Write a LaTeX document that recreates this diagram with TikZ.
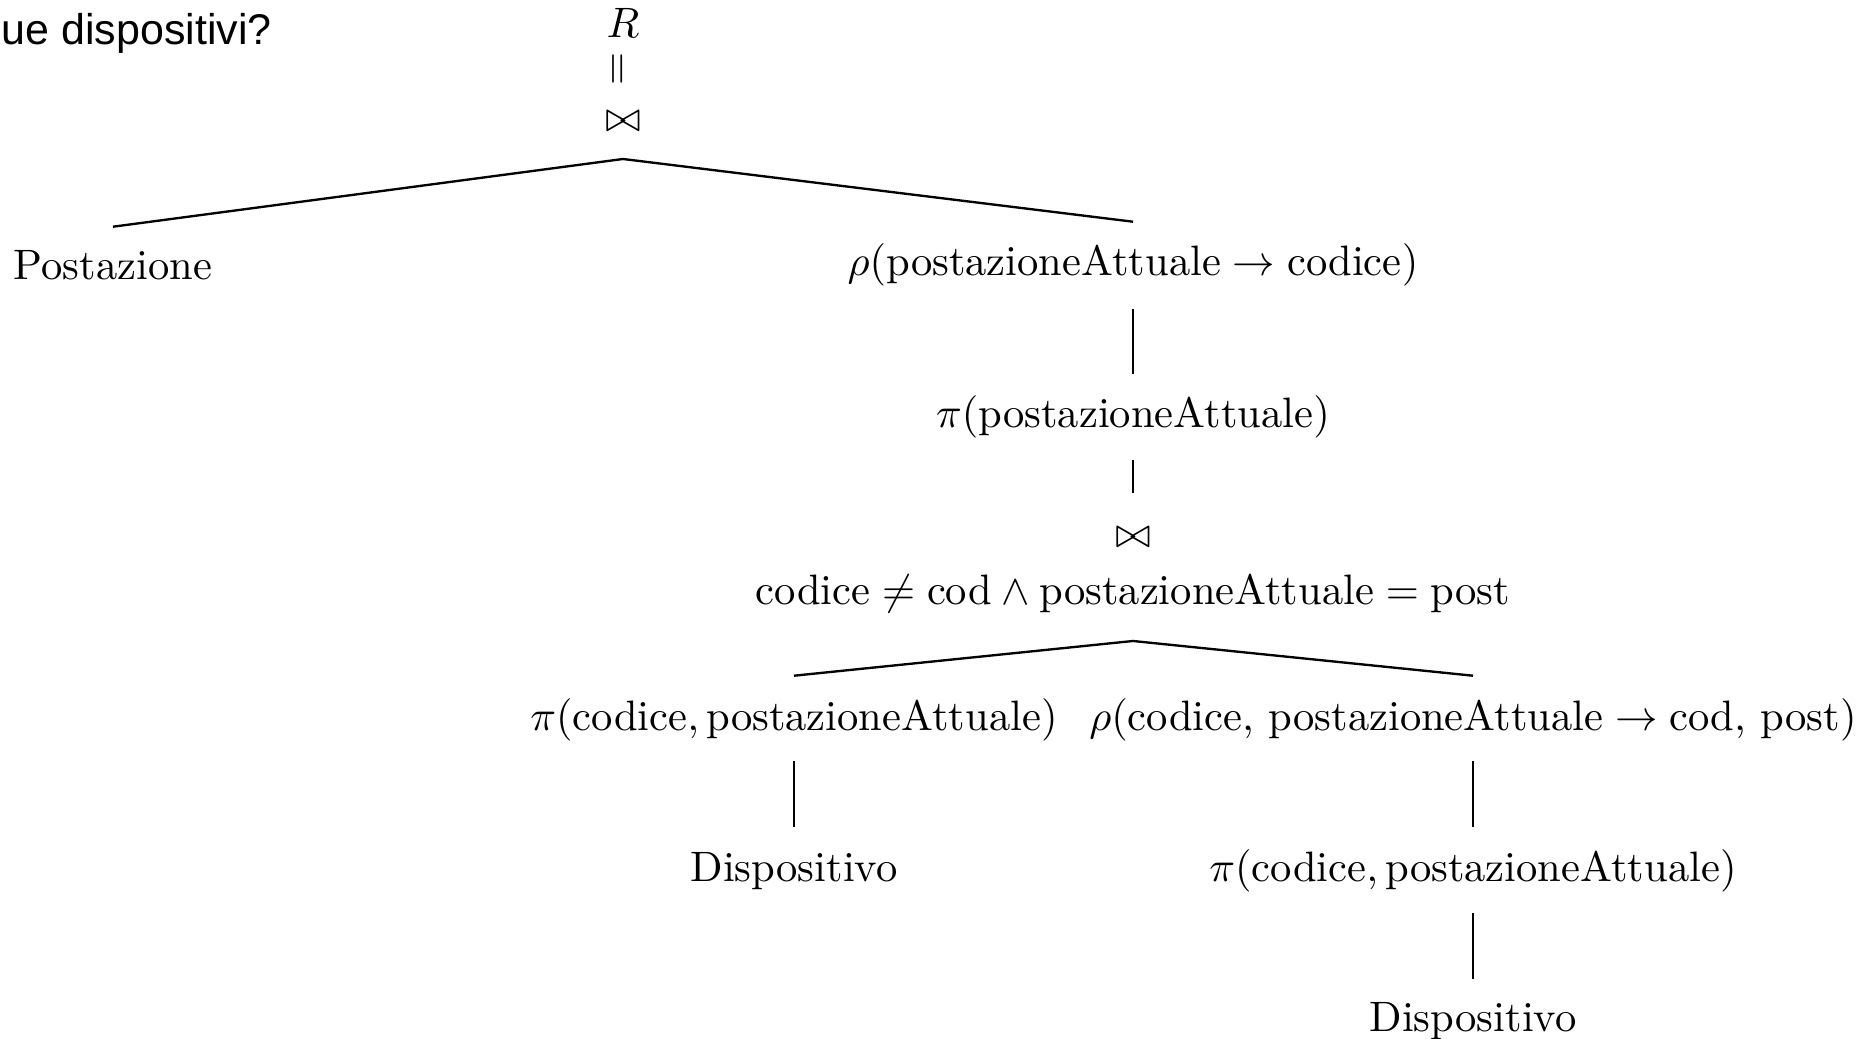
\documentclass[tikz,border=0pt]{standalone}
\usepackage{amsmath}
\usepackage{graphicx}
\usepackage{fontspec}
\usetikzlibrary{calc}
\newfontfamily\qfont{Liberation Sans}
\begin{document}
\begin{tikzpicture}[x=0.235pt,y=-0.235pt,
  lbl/.style={inner sep=0pt,outer sep=0pt,text height=7.5pt,text depth=2.5pt,anchor=center},
  edge/.style={line width=0.55pt},
  vedge/.style={line width=0.4pt}]
\useasboundingbox (0,0) rectangle (1872,1039);
\node[anchor=base west,inner sep=0pt,font=\qfont\fontsize{10.1}{12}\selectfont] (q) at (1,45) {ue dispositivi?};
\node[lbl] (r) at (623,27) {$R$};
\node[inner sep=0pt] (eq) at (620,69) {\rotatebox{90}{$=$}};
\node[lbl] (j1) at (623,121) {$\bowtie$};
\coordinate (a1) at (623,159);
\node[lbl] (post) at (113,269) {Postazione};
\node[lbl] (rho1) at (1133,265) {$\rho(\text{postazioneAttuale} \rightarrow \text{codice})$};
\node[lbl] (pi1) at (1133,417) {$\pi(\text{postazioneAttuale})$};
\node[lbl] (j2) at (1133,537) {$\bowtie$};
\node[lbl] (cond) at (1133,594) {$\text{codice} \neq \text{cod} \land \text{postazioneAttuale} = \text{post}$};
\coordinate (a2) at (1133,641);
\node[lbl] (pi2) at (794,720) {$\pi(\text{codice}, \text{postazioneAttuale})$};
\node[lbl] (rho2) at (1473,720) {$\rho(\text{codice, postazioneAttuale} \rightarrow \text{cod, post})$};
\node[lbl] (disp1) at (794,871) {Dispositivo};
\node[lbl] (pi3) at (1473,871) {$\pi(\text{codice}, \text{postazioneAttuale})$};
\node[lbl] (disp2) at (1473,1021) {Dispositivo};
\draw[edge] ($(post.north)+(0,-21)$) -- (a1) -- ($(rho1.north)+(0,-22)$);
\draw[vedge] ($(rho1.south)+(0,23)$) -- ($(pi1.north)+(0,-22)$);
\draw[vedge] ($(pi1.south)+(0,22)$) -- ($(j2.north)+(0,-23)$);
\draw[edge] ($(pi2.north)+(0,-23)$) -- (a2) -- ($(rho2.north)+(0,-23)$);
\draw[vedge] ($(pi2.south)+(0,20)$) -- ($(disp1.north)+(0,-23)$);
\draw[vedge] ($(rho2.south)+(0,20)$) -- ($(pi3.north)+(0,-23)$);
\draw[vedge] ($(pi3.south)+(0,21)$) -- ($(disp2.north)+(0,-21)$);
\end{tikzpicture}
\end{document}
